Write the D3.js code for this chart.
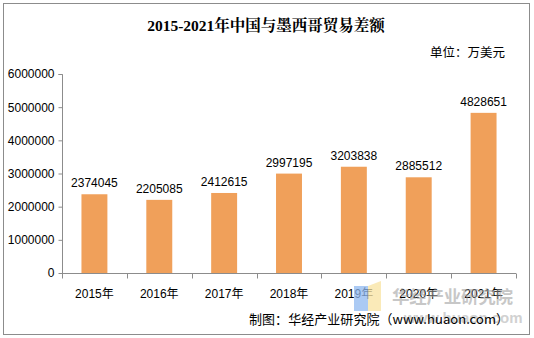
<!DOCTYPE html>
<html>
<head>
<meta charset="utf-8">
<script src="https://cdn.jsdelivr.net/npm/d3@7"></script>
<style>
  html, body { margin: 0; padding: 0; background: #fff; }
  svg { display: block; }
</style>
</head>
<body>
<script>
// China–Mexico trade balance, 10k USD
const years = ["2015年", "2016年", "2017年", "2018年", "2019年", "2020年", "2021年"];
const balance = [2374045, 2205085, 2412615, 2997195, 3203838, 2885512, 4828651];
const yTicks = [0, 1000000, 2000000, 3000000, 4000000, 5000000, 6000000];

const W = 534, H = 338;
const svg = d3.select("body").append("svg").attr("width", W).attr("height", H);

// outer frame
svg.append("rect").attr("x", 3.5).attr("y", 3.5).attr("width", 526).attr("height", 331)
  .attr("fill", "#fff").attr("stroke", "#8c8c8c").attr("stroke-width", 1);

const x = d3.scaleBand().domain(years).range([62, 516]).paddingInner(0.6).paddingOuter(0.3);
const y = d3.scaleLinear().domain([0, 6000000]).range([273, 74]);
const band = d3.scaleBand().domain(years).range([62, 516]);

const sansFont = "Arial, 'Liberation Sans', 'Noto Sans CJK SC', sans-serif";

// title and unit
svg.append("text").attr("x", 266).attr("y", 31).attr("text-anchor", "middle")
  .attr("font-family", "'Liberation Serif', 'Noto Serif CJK SC', 'Noto Sans CJK SC', serif")
  .attr("font-weight", "bold").attr("font-size", 15.5).attr("fill", "#000")
  .text("2015-2021年中国与墨西哥贸易差额");
svg.append("text").attr("x", 505).attr("y", 57).attr("text-anchor", "end")
  .attr("font-family", "'Noto Sans CJK SC', sans-serif").attr("font-size", 12.5).attr("fill", "#000")
  .text("单位：万美元");

// y axis
const yAxis = d3.axisLeft(y).tickValues(yTicks).tickSize(4).tickPadding(4).tickFormat(d3.format("d"));
const gy = svg.append("g").attr("transform", "translate(62.5,0)").call(yAxis);
gy.selectAll("path, line").attr("stroke", "#8c8c8c");
gy.select(".domain").attr("d", `M-4,${y(6000000) + 0.5}H0V${y(0) + 0.5}`);
gy.selectAll("text").attr("font-family", sansFont).attr("font-size", 12).attr("fill", "#000");

// x axis with ticks at category boundaries
const gx = svg.append("g").attr("transform", "translate(0,273.5)");
gx.append("line").attr("x1", 62).attr("x2", 516).attr("stroke", "#8c8c8c");
gx.selectAll("line.tick").data(years.concat(["end"])).join("line").attr("class", "tick")
  .attr("x1", (d, i) => Math.round(62 + i * band.step()) + 0.5)
  .attr("x2", (d, i) => Math.round(62 + i * band.step()) + 0.5)
  .attr("y1", 0).attr("y2", 5).attr("stroke", "#8c8c8c");
gx.selectAll("text").data(years).join("text")
  .attr("x", d => band(d) + band.bandwidth() / 2).attr("y", 24)
  .attr("text-anchor", "middle").attr("font-family", sansFont).attr("font-size", 12).attr("fill", "#000")
  .text(d => d);

// bars
svg.append("g").selectAll("rect").data(years).join("rect")
  .attr("x", d => x(d)).attr("width", x.bandwidth())
  .attr("y", (d, i) => y(balance[i])).attr("height", (d, i) => y(0) - y(balance[i]))
  .attr("fill", "#F0A05A");

// value labels
svg.append("g").selectAll("text").data(years).join("text")
  .attr("x", d => x(d) + x.bandwidth() / 2).attr("y", (d, i) => y(balance[i]) - 7)
  .attr("text-anchor", "middle").attr("font-family", sansFont).attr("font-size", 12).attr("fill", "#000")
  .text((d, i) => balance[i]);

// watermark logo and text
const wm = svg.append("g");
wm.append("rect").attr("x", 354).attr("y", 286).attr("width", 14).attr("height", 25)
  .attr("fill", "#8fb8f0").attr("opacity", 0.75);
wm.append("path").attr("d", "M368,286L381,281V311H368Z").attr("fill", "#f8e3a0").attr("opacity", 0.75);
wm.append("text").attr("x", 392).attr("y", 303).attr("font-family", "'Noto Sans CJK SC', sans-serif")
  .attr("font-weight", "bold").attr("font-size", 17.5).attr("fill", "#9a9a9a").attr("opacity", 0.55)
  .attr("textLength", 121).text("华经产业研究院");
wm.append("text").attr("x", 404).attr("y", 323).attr("font-family", sansFont)
  .attr("font-weight", "bold").attr("font-size", 15).attr("fill", "#9a9a9a").attr("opacity", 0.45)
  .text("www.huaon.com");

// source line
svg.append("text").attr("x", 249).attr("y", 324).attr("font-family", "'Noto Sans CJK SC', sans-serif")
  .attr("font-size", 13).attr("fill", "#000").attr("textLength", 260)
  .text("制图：华经产业研究院（www.huaon.com）");
</script>
</body>
</html>
